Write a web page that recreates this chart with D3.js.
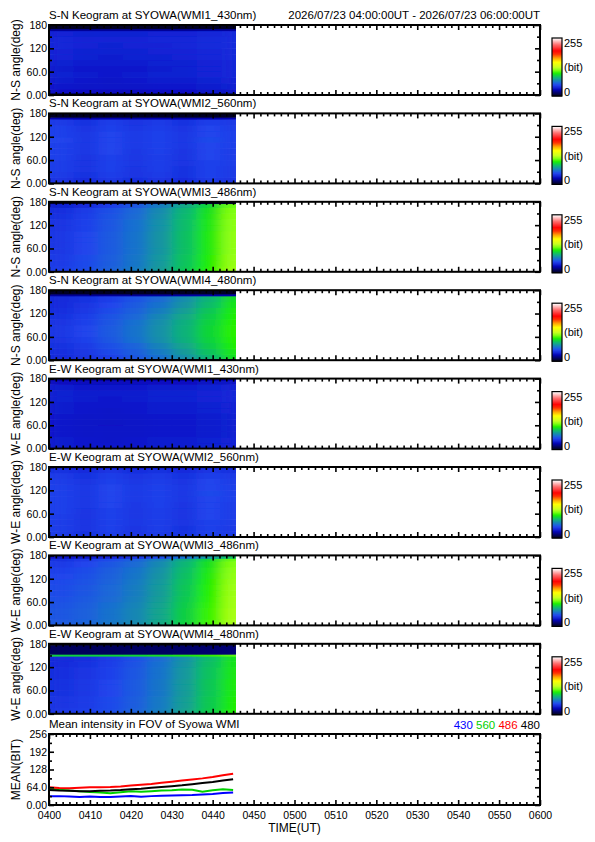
<!DOCTYPE html>
<html>
<head>
<meta charset="utf-8">
<script src="https://cdn.jsdelivr.net/npm/d3@7"></script>
<style>
body { margin: 0; background: #fff; }
svg text { font-family: "Liberation Sans", Arial, sans-serif; fill: #000; }
</style>
</head>
<body>
<div id="chart"></div>
<script>
// 1: DATA
const headerText = "2026/07/23 04:00:00UT - 2026/07/23 06:00:00UT";
const keoTitles = [
    "S-N Keogram at SYOWA(WMI1_430nm)", "S-N Keogram at SYOWA(WMI2_560nm)",
    "S-N Keogram at SYOWA(WMI3_486nm)", "S-N Keogram at SYOWA(WMI4_480nm)",
    "E-W Keogram at SYOWA(WMI1_430nm)", "E-W Keogram at SYOWA(WMI2_560nm)",
    "E-W Keogram at SYOWA(WMI3_486nm)", "E-W Keogram at SYOWA(WMI4_480nm)"
];
const keoYTitles = ["N-S angle(deg)", "N-S angle(deg)", "N-S angle(deg)", "N-S angle(deg)",
    "W-E angle(deg)", "W-E angle(deg)", "W-E angle(deg)", "W-E angle(deg)"];
const angleTicks = [0, 60, 120, 180];
const angleTickLabels = ["0.00", "60.0", "120", "180"];

// minutes after 04:00 UT, column edges of the keogram cells
const timeEdges = [0, 6, 12, 18, 24, 30, 36, 42, 45.7];

// each keogram: row edges (deg, bottom -> top) and cell values (bit), one row per band
const sn430Rows = [0, 5, 15, 30, 45, 60, 75, 90, 105, 120, 135, 150, 165, 170, 180];
const sn430Vals = [
    [8, 8, 8, 8, 8, 8, 8, 8],
    [33, 33, 32, 32, 33, 33, 34, 35],
    [36, 35, 35, 35, 36, 36, 37, 38],
    [37, 36, 35, 36, 37, 37, 38, 39],
    [38, 37, 36, 37, 38, 38, 39, 40],
    [37, 36, 36, 36, 37, 38, 39, 40],
    [38, 37, 37, 37, 38, 38, 39, 40],
    [39, 38, 37, 38, 38, 39, 40, 41],
    [39, 38, 38, 38, 39, 39, 40, 41],
    [40, 39, 38, 39, 39, 40, 41, 42],
    [40, 39, 39, 39, 40, 40, 41, 42],
    [39, 38, 38, 38, 39, 39, 40, 41],
    [24, 24, 24, 24, 24, 24, 25, 25],
    [4, 4, 4, 4, 4, 4, 4, 4]
];
const sn560Rows = [0, 15, 30, 45, 60, 75, 90, 105, 120, 135, 150, 165, 170, 180];
const sn560Vals = [
    [45, 42, 46, 43, 45, 42, 47, 45],
    [47, 44, 48, 45, 47, 44, 49, 47],
    [48, 45, 49, 45, 48, 44, 49, 47],
    [48, 45, 49, 46, 48, 45, 49, 48],
    [49, 45, 49, 46, 48, 45, 50, 48],
    [49, 46, 50, 46, 49, 45, 50, 48],
    [49, 46, 50, 47, 49, 46, 50, 49],
    [50, 46, 50, 47, 49, 46, 51, 49],
    [49, 46, 50, 47, 49, 46, 50, 49],
    [49, 45, 49, 46, 48, 45, 50, 48],
    [47, 44, 48, 45, 47, 44, 48, 47],
    [28, 27, 28, 27, 28, 27, 28, 28],
    [4, 4, 4, 4, 4, 4, 4, 4]
];
const sn486Rows = [0, 15, 30, 45, 60, 75, 90, 105, 120, 135, 150, 165, 175, 180];
const sn486Vals = [
    [48, 52, 58, 65, 75, 88, 102, 120],
    [47, 51, 57, 64, 74, 87, 101, 119],
    [47, 51, 57, 64, 74, 87, 101, 119],
    [46, 50, 56, 63, 73, 86, 100, 118],
    [46, 50, 56, 63, 73, 86, 100, 118],
    [46, 50, 56, 63, 73, 86, 100, 118],
    [46, 50, 56, 63, 73, 86, 100, 118],
    [45, 49, 55, 62, 72, 85, 99, 117],
    [45, 49, 55, 62, 72, 85, 99, 117],
    [44, 48, 54, 61, 71, 84, 98, 116],
    [43, 47, 53, 60, 70, 83, 97, 115],
    [38, 42, 48, 55, 66, 79, 94, 112],
    [6, 6, 6, 6, 6, 6, 6, 6]
];
const sn480Rows = [0, 4, 15, 30, 45, 60, 75, 90, 105, 120, 135, 150, 165, 170, 180];
const sn480Vals = [
    [6, 6, 6, 6, 6, 6, 6, 6],
    [42, 45, 49, 55, 62, 72, 84, 97],
    [43, 46, 51, 57, 65, 75, 87, 99],
    [44, 47, 53, 59, 68, 78, 90, 101],
    [45, 49, 55, 62, 71, 81, 92, 102],
    [46, 50, 56, 63, 72, 82, 93, 103],
    [46, 50, 56, 63, 72, 82, 93, 103],
    [45, 49, 55, 62, 71, 81, 92, 102],
    [44, 48, 54, 60, 69, 79, 90, 101],
    [43, 46, 52, 58, 66, 76, 88, 100],
    [42, 45, 50, 56, 63, 73, 85, 98],
    [41, 44, 48, 54, 61, 71, 83, 96],
    [24, 24, 24, 24, 25, 26, 27, 28],
    [4, 4, 4, 4, 4, 4, 4, 4]
];
const ew430Rows = [0, 15, 30, 45, 60, 75, 90, 105, 120, 135, 150, 165, 175, 180];
const ew430Vals = [
    [37, 36, 36, 36, 37, 37, 38, 39],
    [37, 36, 35, 36, 37, 37, 38, 39],
    [36, 35, 35, 35, 36, 36, 37, 38],
    [36, 35, 35, 35, 36, 36, 37, 38],
    [36, 35, 34, 35, 36, 36, 37, 38],
    [36, 35, 35, 35, 36, 36, 37, 38],
    [37, 36, 35, 36, 37, 37, 38, 39],
    [37, 36, 36, 36, 37, 37, 38, 39],
    [38, 37, 36, 37, 38, 38, 39, 40],
    [38, 37, 37, 37, 38, 38, 39, 40],
    [37, 36, 36, 36, 37, 37, 38, 39],
    [33, 32, 32, 32, 33, 33, 34, 35],
    [26, 26, 26, 26, 26, 26, 27, 28]
];
const ew560Rows = [0, 15, 30, 45, 60, 75, 90, 105, 120, 135, 150, 165, 175, 180];
const ew560Vals = [
    [47, 44, 48, 45, 47, 44, 49, 47],
    [48, 45, 49, 45, 48, 44, 49, 47],
    [48, 45, 49, 46, 48, 45, 49, 48],
    [48, 45, 49, 46, 48, 45, 50, 48],
    [49, 45, 49, 46, 48, 45, 50, 48],
    [49, 46, 50, 46, 49, 45, 50, 48],
    [49, 46, 50, 47, 49, 46, 50, 49],
    [49, 46, 50, 47, 49, 46, 51, 49],
    [49, 46, 50, 47, 49, 46, 50, 49],
    [48, 45, 49, 46, 48, 45, 50, 48],
    [47, 44, 48, 45, 47, 44, 48, 47],
    [44, 42, 45, 43, 44, 42, 45, 44],
    [37, 36, 37, 36, 37, 36, 38, 38]
];
const ew486Rows = [0, 15, 30, 45, 60, 75, 90, 105, 120, 135, 150, 165, 172, 180];
const ew486Vals = [
    [56, 59, 64, 70, 79, 92, 106, 123],
    [55, 58, 63, 69, 78, 91, 105, 122],
    [55, 58, 63, 69, 78, 91, 105, 122],
    [54, 57, 62, 68, 77, 90, 104, 121],
    [53, 56, 61, 67, 76, 89, 103, 121],
    [52, 55, 60, 66, 75, 88, 102, 120],
    [52, 55, 60, 66, 75, 88, 102, 120],
    [51, 54, 59, 65, 74, 87, 101, 119],
    [50, 53, 58, 64, 73, 86, 100, 118],
    [49, 52, 57, 63, 72, 85, 99, 117],
    [47, 50, 55, 61, 70, 83, 97, 115],
    [44, 47, 52, 58, 67, 80, 94, 112],
    [34, 36, 40, 45, 52, 62, 74, 88]
];
const ew480Rows = [0, 15, 30, 45, 60, 75, 90, 105, 120, 135, 148, 153, 176, 180];
const ew480Vals = [
    [46, 48, 52, 58, 66, 77, 90, 102],
    [45, 47, 51, 57, 65, 76, 89, 101],
    [45, 47, 51, 57, 65, 76, 89, 101],
    [44, 46, 50, 56, 64, 75, 88, 100],
    [44, 46, 50, 56, 64, 75, 88, 100],
    [44, 46, 50, 56, 64, 75, 88, 100],
    [43, 45, 49, 55, 63, 74, 87, 99],
    [43, 45, 49, 55, 63, 74, 87, 99],
    [42, 44, 48, 54, 62, 73, 86, 98],
    [41, 43, 47, 53, 61, 72, 85, 97],
    [92, 92, 93, 94, 96, 99, 104, 110],
    [14, 14, 14, 15, 15, 16, 17, 18],
    [4, 4, 4, 4, 4, 4, 4, 4]
];
const keoRows = [sn430Rows, sn560Rows, sn486Rows, sn480Rows, ew430Rows, ew560Rows, ew486Rows, ew480Rows];
const keoVals = [sn430Vals, sn560Vals, sn486Vals, sn480Vals, ew430Vals, ew560Vals, ew486Vals, ew480Vals];

// mean intensity in FOV (bit), minutes after 04:00 UT
const meanTimes = [0, 2.5, 5, 7.5, 10, 12.5, 15, 17.5, 20, 22.5, 25, 27.5, 30, 32.5, 35, 37.5, 40, 42.5, 45];
const mean430 = [32, 32, 31, 29, 31, 29, 29, 31, 32, 30, 32, 33, 34, 35, 36, 38, 40, 43, 45];
const mean560 = [60, 55, 52, 50, 47, 45, 42, 46, 50, 48, 50, 52, 53, 56, 55, 48, 53, 57, 54];
const mean486 = [64, 61, 60, 62, 64, 64, 65, 67, 70, 73, 76, 80, 84, 88, 92, 96, 101, 107, 113];
const mean480 = [54, 52, 51, 50, 50, 51, 52, 54, 57, 59, 62, 65, 68, 71, 75, 79, 83, 88, 93];
const meanLabels = ["430", "560", "486", "480"];
const meanTicks = [0, 64, 128, 192, 256];
const meanTickLabels = ["0.00", "64.0", "128", "192", "256"];

// 2: LAYOUT
const W = 595, H = 842;
const plotL = 49, plotR = 540, panelH = 70;
const panelTops = d3.range(8).map(i => 25 + i * 88.4);
const meanTop = 734, meanH = 71;

const svg = d3.select("#chart").append("svg")
    .attr("width", W)
    .attr("height", H);
const defs = svg.append("defs");

defs.append("filter")
    .attr("id", "smear")
    .attr("x", "-10%").attr("y", "-10%").attr("width", "120%").attr("height", "120%")
    .append("feGaussianBlur")
    .attr("stdDeviation", "7 0.5");

// 3: SCALES
const x = d3.scaleLinear().domain([0, 120]).range([plotL, plotR]);
const color = d3.scaleLinear()
    .domain([0, 12, 28, 40, 50, 60, 72, 84, 94, 102, 115, 128, 150, 168, 185, 200, 228, 255])
    .range(["#000010", "#000050", "#0000b0", "#1426d8", "#2044ec", "#1a68d8", "#1490a8", "#10b870",
        "#10d830", "#20f000", "#80ff10", "#c8ff20", "#ffff00", "#ffa000", "#ff3000", "#ff0000", "#ff7070", "#ffffff"])
    .clamp(true);

const xMajor = d3.range(0, 121, 10);
const xMinor = d3.range(0, 120.01, 10 / 6).filter(m => Math.abs(m / 10 - Math.round(m / 10)) > 0.01);
const fmtTime = m => String(4 + Math.floor(m / 60)).padStart(2, "0") + String(m % 60).padStart(2, "0");

function frameAxes(g, y, top, h, majorY, minorY, yLabels, showX) {
    const bottom = top + h;
    // ticks point inward on every side
    g.append("g").attr("transform", `translate(${plotL},0)`)
        .call(d3.axisLeft(y).tickValues(majorY).tickSize(-5).tickPadding(2).tickFormat((d, i) => yLabels[i]));
    g.append("g").attr("transform", `translate(${plotL},0)`)
        .call(d3.axisLeft(y).tickValues(minorY).tickSize(-3).tickFormat(""));
    g.append("g").attr("transform", `translate(${plotR},0)`)
        .call(d3.axisRight(y).tickValues(majorY).tickSize(-5).tickFormat(""));
    g.append("g").attr("transform", `translate(${plotR},0)`)
        .call(d3.axisRight(y).tickValues(minorY).tickSize(-3).tickFormat(""));
    g.append("g").attr("transform", `translate(0,${top})`)
        .call(d3.axisTop(x).tickValues(xMajor).tickSize(-5).tickFormat(""));
    g.append("g").attr("transform", `translate(0,${top})`)
        .call(d3.axisTop(x).tickValues(xMinor).tickSize(-3).tickFormat(""));
    g.append("g").attr("transform", `translate(0,${bottom})`)
        .call(d3.axisBottom(x).tickValues(xMajor).tickSize(-5).tickPadding(7).tickFormat(showX ? fmtTime : ""));
    g.append("g").attr("transform", `translate(0,${bottom})`)
        .call(d3.axisBottom(x).tickValues(xMinor).tickSize(-3).tickFormat(""));

    g.selectAll(".domain").remove();
    g.selectAll(".tick line").attr("stroke", "#000").attr("stroke-width", 1.6);
    g.selectAll(".tick text").attr("font-size", 10.5).attr("fill", "#000");

    g.append("rect")
        .attr("x", plotL).attr("y", top)
        .attr("width", plotR - plotL).attr("height", h)
        .attr("fill", "none").attr("stroke", "#000").attr("stroke-width", 2);
}

// 4: KEOGRAM PANELS
keoTitles.forEach((title, i) => {
    const top = panelTops[i];
    const rows = keoRows[i];
    const vals = keoVals[i];
    const g = svg.append("g");
    const y = d3.scaleLinear().domain([0, 180]).range([top + panelH, top]);

    const cells = [];
    vals.forEach((row, r) => row.forEach((v, c) => cells.push({
        t0: timeEdges[c], t1: timeEdges[c + 1], a0: rows[r], a1: rows[r + 1], v
    })));

    defs.append("clipPath").attr("id", `clip${i}`)
        .append("rect")
        .attr("x", x(0)).attr("y", top)
        .attr("width", x(timeEdges[timeEdges.length - 1]) - x(0)).attr("height", panelH);

    const heat = g.append("g").attr("clip-path", `url(#clip${i})`);
    const drawCells = sel => sel.selectAll("rect").data(cells).join("rect")
        .attr("x", d => x(d.t0))
        .attr("width", d => x(d.t1) - x(d.t0) + 0.5)
        .attr("y", d => y(d.a1))
        .attr("height", d => y(d.a0) - y(d.a1) + 0.3)
        .attr("fill", d => color(d.v));
    drawCells(heat.append("g"));
    drawCells(heat.append("g").attr("filter", "url(#smear)"));

    frameAxes(g, y, top, panelH, angleTicks, [30, 90, 150], angleTickLabels, false);

    g.append("text")
        .attr("x", plotL).attr("y", top - 6)
        .attr("font-size", 11.5)
        .text(title);

    g.append("text")
        .attr("transform", `translate(20,${top + panelH / 2}) rotate(-90)`)
        .attr("text-anchor", "middle")
        .attr("font-size", 12)
        .text(keoYTitles[i]);

    // colour bar
    const cbY = d3.scaleLinear().domain([0, 255]).range([top + 71, top + 13]);
    g.append("g").selectAll("rect").data(d3.range(0, 256))
        .join("rect")
        .attr("x", 552).attr("width", 10)
        .attr("y", d => cbY(d + 1)).attr("height", cbY(0) - cbY(1) + 0.4)
        .attr("fill", d => color(d));
    g.append("rect")
        .attr("x", 552).attr("y", cbY(255)).attr("width", 10).attr("height", cbY(0) - cbY(255))
        .attr("fill", "none").attr("stroke", "#000").attr("stroke-width", 1.2);
    g.append("text").attr("x", 564).attr("y", cbY(255) + 9).attr("font-size", 11).text("255");
    g.append("text").attr("x", 564).attr("y", cbY(127) + 4).attr("font-size", 11).text("(bit)");
    g.append("text").attr("x", 564).attr("y", cbY(0)).attr("font-size", 11).text("0");
});

svg.append("text")
    .attr("x", plotR).attr("y", panelTops[0] - 6)
    .attr("text-anchor", "end")
    .attr("font-size", 11.5)
    .text(headerText);

// 5: MEAN INTENSITY PANEL
const gm = svg.append("g");
const yMean = d3.scaleLinear().domain([0, 256]).range([meanTop + meanH, meanTop]);

const series = [mean430, mean560, mean486, mean480];
const seriesColors = ["#0000ff", "#00d000", "#ff0000", "#000000"];
const line = d3.line()
    .x((d, i) => x(meanTimes[i]))
    .y(d => yMean(d));

series.forEach((s, k) => {
    gm.append("path")
        .datum(s)
        .attr("d", line)
        .attr("fill", "none")
        .attr("stroke", seriesColors[k])
        .attr("stroke-width", 2);
});

frameAxes(gm, yMean, meanTop, meanH, meanTicks, [32, 96, 160, 224], meanTickLabels, true);

gm.append("text")
    .attr("x", plotL).attr("y", meanTop - 6)
    .attr("font-size", 11.5)
    .text("Mean intensity in FOV of Syowa WMI");

const legend = gm.append("text")
    .attr("x", plotR).attr("y", meanTop - 5)
    .attr("text-anchor", "end")
    .attr("font-size", 11.5);
meanLabels.forEach((lab, k) => {
    legend.append("tspan")
        .attr("fill", seriesColors[k])
        .text((k > 0 ? " " : "") + lab);
});

gm.append("text")
    .attr("transform", `translate(20,${meanTop + meanH / 2}) rotate(-90)`)
    .attr("text-anchor", "middle")
    .attr("font-size", 12)
    .text("MEAN(BIT)");

gm.append("text")
    .attr("x", (plotL + plotR) / 2).attr("y", 832)
    .attr("text-anchor", "middle")
    .attr("font-size", 12)
    .text("TIME(UT)");
</script>
</body>
</html>
